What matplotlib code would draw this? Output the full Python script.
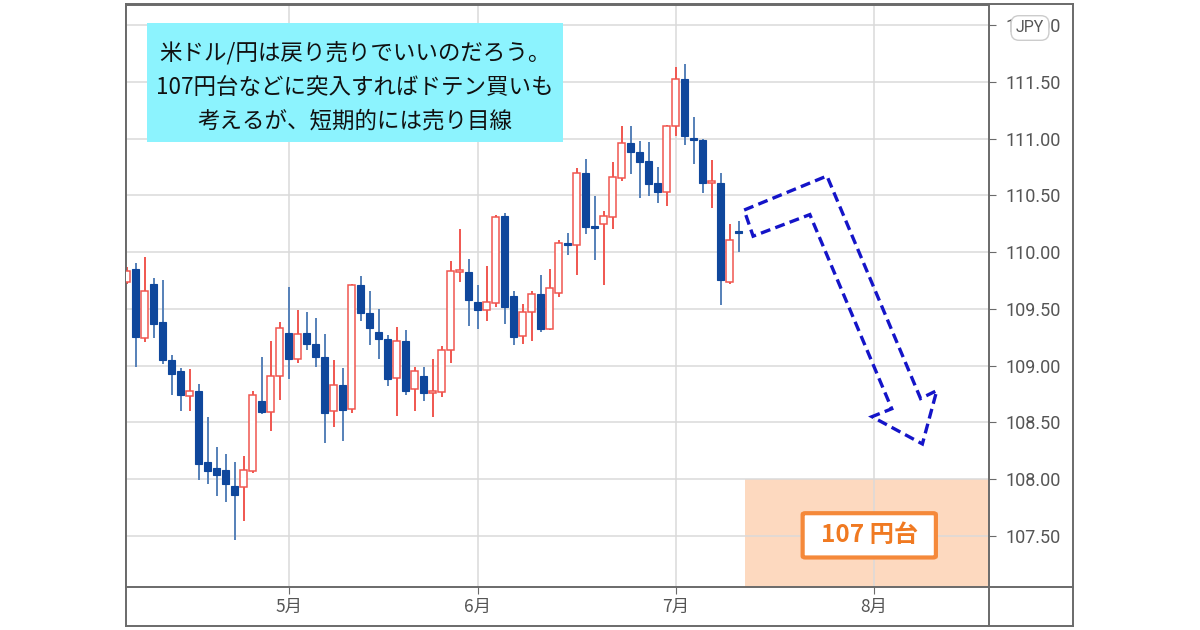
import matplotlib.pyplot as plt
from matplotlib.patches import Rectangle, FancyBboxPatch
from matplotlib.lines import Line2D
import numpy as np

plt.rcParams['font.family'] = ['Noto Sans CJK JP', 'DejaVu Sans']

# USD/JPY daily candles, mid-April to mid-July (bar index = trading day)
opens = [109.74, 109.85, 109.24, 109.72, 109.38, 109.05, 108.95, 108.73, 108.78, 108.15,
         108.10, 108.08, 107.94, 107.93, 108.07, 108.69, 108.59, 108.91, 109.29, 109.06,
         109.29, 109.19, 109.08, 108.60, 108.83, 108.62, 109.71, 109.46, 109.30, 109.23,
         108.89, 109.22, 108.79, 108.91, 108.76, 108.77, 109.14, 109.82, 109.82, 109.56,
         109.49, 109.55, 110.32, 109.61, 109.26, 109.47, 109.63, 109.32, 109.64, 110.08,
         110.06, 110.70, 110.23, 110.25, 110.31, 110.65, 110.96, 110.88, 110.80, 110.61,
         110.53, 111.11, 111.52, 111.00, 110.99, 110.61, 110.61, 109.74, 110.18]
closes = [109.83, 109.25, 109.66, 109.37, 109.05, 108.93, 108.74, 108.78, 108.13, 108.07,
          108.04, 107.96, 107.86, 108.08, 108.74, 108.59, 108.91, 109.33, 109.06, 109.28,
          109.19, 109.08, 108.58, 108.83, 108.61, 109.71, 109.46, 109.33, 109.23, 108.88,
          109.22, 108.78, 108.95, 108.76, 108.77, 109.14, 109.83, 109.84, 109.58, 109.49,
          109.56, 110.31, 109.52, 109.25, 109.47, 109.63, 109.32, 109.68, 110.08, 110.06,
          110.70, 110.22, 110.21, 110.32, 110.66, 110.96, 110.88, 110.79, 110.60, 110.53,
          111.11, 111.52, 111.02, 110.99, 110.61, 110.62, 109.75, 110.11, 110.17]
highs = [109.87, 109.90, 109.96, 109.77, 109.75, 109.09, 108.98, 108.97, 108.84, 108.55,
         108.28, 108.22, 108.15, 108.20, 108.78, 109.08, 109.22, 109.38, 109.69, 109.49,
         109.47, 109.42, 109.28, 109.05, 108.98, 109.72, 109.79, 109.66, 109.50, 109.27,
         109.34, 109.31, 108.99, 108.99, 109.06, 109.17, 109.92, 110.20, 109.94, 109.71,
         109.88, 110.33, 110.34, 109.66, 109.54, 109.66, 109.80, 109.85, 110.11, 110.17,
         110.74, 110.82, 110.49, 110.36, 110.79, 111.11, 111.11, 110.98, 110.97, 110.75,
         111.12, 111.63, 111.66, 111.19, 111.00, 110.81, 110.70, 110.25, 110.27]
lows = [109.72, 108.99, 109.21, 109.24, 109.01, 108.74, 108.60, 108.60, 107.99, 107.96,
        107.85, 107.80, 107.46, 107.63, 108.05, 108.57, 108.42, 108.70, 108.88, 109.02,
        109.14, 108.99, 108.32, 108.46, 108.34, 108.58, 109.39, 109.18, 109.06, 108.82,
        108.56, 108.74, 108.60, 108.69, 108.55, 108.72, 109.02, 109.74, 109.35, 109.32,
        109.39, 109.52, 109.37, 109.18, 109.19, 109.22, 109.30, 109.31, 109.60, 109.97,
        109.80, 110.16, 109.93, 109.71, 110.20, 110.63, 110.69, 110.48, 110.49, 110.43,
        110.41, 111.02, 110.94, 110.78, 110.52, 110.39, 109.53, 109.72, 110.00]

month_pos = [18, 39, 61, 83]
month_labels = ["5月", "6月", "7月", "8月"]
price_ticks = [107.5, 108.0, 108.5, 109.0, 109.5, 110.0, 110.5, 111.0, 111.5, 112.0]

# hand-drawn sell arrow (bar index, price)
arrow_x = [68.6, 77.8, 88.2, 90.0, 88.4, 82.8, 85.0, 75.9, 69.6, 68.6]
arrow_y = [110.37, 110.67, 108.71, 108.78, 108.31, 108.55, 108.62, 110.33, 110.14, 110.37]

note_lines = ["米ドル/円は戻り売りでいいのだろう。",
              "107円台などに突入すればドテン買いも",
              "考えるが、短期的には売り目線"]
note_y = [111.76, 111.45, 111.15]

o = np.array(opens)
c = np.array(closes)
h = np.array(highs)
l = np.array(lows)
x = np.arange(len(o))
up = c >= o

bull = "#F0564F"
bear = "#0F479C"
bear_wick = "#5580B8"
frame_col = "#6A6A6A"

fig = plt.figure(figsize=(12, 6.3), dpi=100)
W, H = 1200, 630

# outer frame around plot + axis strips
fr = fig.add_axes([126 / W, 4 / H, (1073 - 126) / W, (626 - 4) / H])
fr.set_xticks([])
fr.set_yticks([])
for s in fr.spines.values():
    s.set_color(frame_col)
    s.set_linewidth(1.4)

ax = fig.add_axes([126 / W, (H - 587) / H, (989 - 126) / W, (587 - 5) / H])
ax.set_xlim(-0.06, 95.8)
ax.set_ylim(107.05, 112.176)
for s in ax.spines.values():
    s.set_color(frame_col)
    s.set_linewidth(1.4)

fig.add_artist(Line2D([989 / W, 1073 / W], [(H - 587) / H] * 2, color=frame_col, lw=1.4))
fig.add_artist(Line2D([989 / W] * 2, [(H - 587) / H, 4 / H], color=frame_col, lw=1.4))

ax.set_yticks(price_ticks)
ax.set_yticklabels(["%.2f" % p for p in price_ticks], family="Roboto", fontsize=13, color="#555555")
ax.yaxis.tick_right()
ax.tick_params(axis="y", direction="out", length=5, pad=7, color=frame_col)
ax.set_xticks(month_pos)
ax.set_xticklabels(month_labels, fontsize=12.5, color="#555555")
ax.tick_params(axis="x", direction="out", length=5, pad=3, color=frame_col)
ax.grid(True, color="#DADADA", lw=1.1, zorder=0.5)
ax.set_axisbelow(True)

# 107 yen zone (grid shows through)
ax.add_patch(Rectangle((68.7, 106.0), 40, 2.0, facecolor="#FDD9BF", edgecolor="none", zorder=0.2))

# candles
ax.vlines(x[up], l[up], h[up], color=bull, lw=1.4, zorder=2)
ax.vlines(x[~up], l[~up], h[~up], color=bear_wick, lw=1.4, zorder=2)
body_lo = np.minimum(o, c)
body_h = np.maximum(np.abs(c - o), 0.012)
ax.bar(x[up], body_h[up], 0.72, bottom=body_lo[up], facecolor="white", edgecolor=bull, lw=1.1, zorder=3)
ax.bar(x[~up], body_h[~up], 0.72, bottom=body_lo[~up], facecolor=bear, edgecolor=bear, lw=0.8, zorder=3)

# dashed arrow
ax.plot(arrow_x, arrow_y, color="#1414C8", lw=2.4, linestyle=(0, (3, 1.6)),
        solid_joinstyle="miter", dash_joinstyle="miter", zorder=4)

# commentary box
ax.add_patch(Rectangle((2.28, 110.97), 46.2, 1.05, facecolor="#8CF3FE", edgecolor="none", zorder=5))
for line, ly in zip(note_lines, note_y):
    ax.text(25.4, ly, line, ha="center", va="center", fontsize=16.2, color="#111111", zorder=6)

# 107 yen label
ax.add_patch(FancyBboxPatch((75.1, 107.31), 14.8, 0.39, boxstyle="round,pad=0,rounding_size=0.3",
                            facecolor="white", edgecolor="#F5893A", lw=3, zorder=5,
                            mutation_aspect=0.04))
ax.text(82.5, 107.505, "107 円台", ha="center", va="center", fontsize=17.5,
        fontweight="bold", color="#F07A22", zorder=6)

# currency badge over the top label
fig.text(1030 / W, (H - 28) / H, "JPY", ha="center", va="center", family="Roboto",
         fontsize=11.5, color="#555555",
         bbox=dict(boxstyle="round,pad=0.3,rounding_size=0.5", facecolor="white", edgecolor="#CCCCCC", lw=1))

fig.savefig("out.png", dpi=100)
